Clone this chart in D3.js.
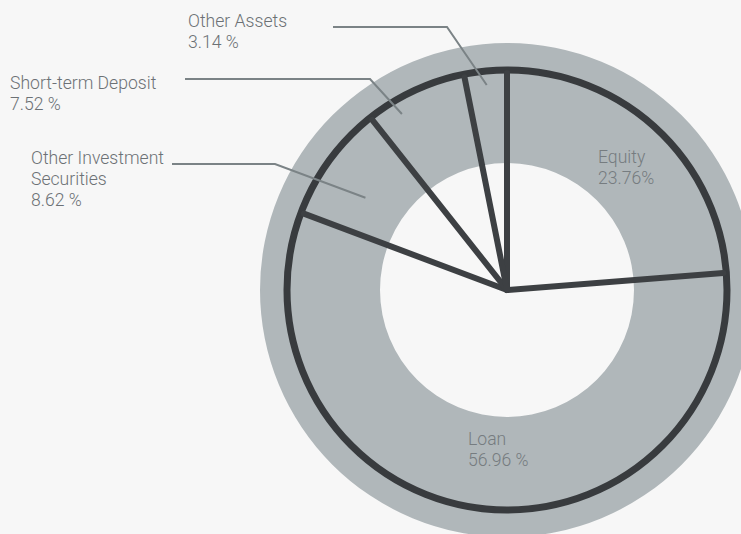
<!DOCTYPE html>
<html>
<head>
<meta charset="utf-8">
<script src="https://cdn.jsdelivr.net/npm/d3@7"></script>
<style>
  body { margin: 0; background: #f7f7f7; }
  svg { display: block; }
  text { font-family: Roboto, "Liberation Sans", sans-serif; font-weight: 300; font-size: 17.6px; }
</style>
</head>
<body>
<div id="chart"></div>
<script>
// asset allocation, clockwise from 12 o'clock
var names = ["Equity", "Loan", "Other Investment Securities", "Short-term Deposit", "Other Assets"];
var values = [23.76, 56.96, 8.62, 7.52, 3.14];
var labelLines = [
  ["Equity", "23.76%"],
  ["Loan", "56.96 %"],
  ["Other Investment", "Securities", "8.62 %"],
  ["Short-term Deposit", "7.52 %"],
  ["Other Assets", "3.14 %"]
];

var width = 741, height = 534;
var cx = 507, cy = 290;
var rOuter = 247, rRing = 220, rInner = 127, rSpoke = 217;

// label placement (layout only)
var layout = [
  {x: 598, y: 163},
  {x: 468, y: 445},
  {x: 31, y: 164, lineFrom: 172, elbow: 275, r: 169, da: -3},
  {x: 10, y: 89, lineFrom: 185, lineY: 79, elbow: 370, r: 205, da: -6},
  {x: 188, y: 27, lineFrom: 333, lineY: 27, elbow: 447, r: 206, da: 0}
];

var svg = d3.select("#chart").append("svg")
  .attr("width", width).attr("height", height);

var pie = d3.pie().sort(null).value(function(d){ return d; });
var arcs = pie(values);

var g = svg.append("g").attr("transform", "translate(" + cx + "," + cy + ")");

// gray ring
g.append("path")
  .attr("d", d3.arc().innerRadius(rInner).outerRadius(rOuter).startAngle(0).endAngle(2 * Math.PI)())
  .attr("fill", "#b0b7ba");

// dark circle
g.append("circle")
  .attr("r", rRing)
  .attr("fill", "none")
  .attr("stroke", "#383b3e")
  .attr("stroke-width", 7);

function polar(a, r){
  return [Math.sin(a) * r, -Math.cos(a) * r];
}

// slice boundaries
g.selectAll("line.spoke")
  .data(arcs)
  .enter()
  .append("line")
  .attr("class", "spoke")
  .attr("x1", 0).attr("y1", 0)
  .attr("x2", function(d){ return polar(d.startAngle, rSpoke)[0]; })
  .attr("y2", function(d){ return polar(d.startAngle, rSpoke)[1]; })
  .attr("stroke", "#3d4043")
  .attr("stroke-width", 6)
  .attr("stroke-linecap", "round");

// leader lines
arcs.forEach(function(d, i){
  var l = layout[i];
  if(l.elbow === undefined) return;
  var mid = (d.startAngle + d.endAngle) / 2 + l.da * Math.PI / 180;
  var p = polar(mid, l.r);
  var ly = l.lineY === undefined ? l.y : l.lineY;
  svg.append("polyline")
    .attr("points", [[l.lineFrom, ly], [l.elbow, ly], [cx + p[0], cy + p[1]]].join(" "))
    .attr("fill", "none")
    .attr("stroke", "#7b8386")
    .attr("stroke-width", 2);
});

// labels
labelLines.forEach(function(lines, i){
  var l = layout[i];
  var inRing = i < 2;
  var t = svg.append("text")
    .attr("x", l.x).attr("y", l.y)
    .attr("fill", inRing ? "#767c80" : "#6c7175");
  lines.forEach(function(s, j){
    t.append("tspan").attr("x", l.x).attr("dy", j ? 21 : 0).text(s);
  });
});
</script>
</body>
</html>
